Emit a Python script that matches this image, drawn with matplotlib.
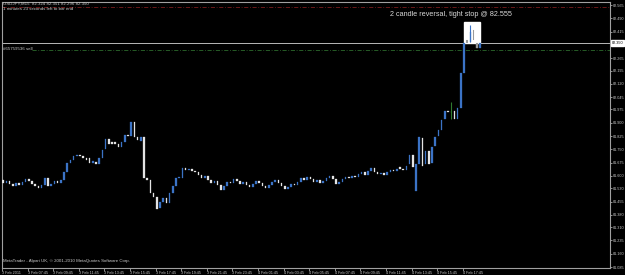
import matplotlib
matplotlib.use('Agg')
import matplotlib.pyplot as plt
from matplotlib.patches import Rectangle
from matplotlib.transforms import blended_transform_factory

plt.rcParams['font.family'] = ['Liberation Sans', 'DejaVu Sans']

# USDJPY M15 candles (open / close)
opens = [81.565, 81.577, 81.560, 81.571, 81.554, 81.543, 81.560, 81.548, 81.565, 81.582,
         81.571, 81.554, 81.543, 81.531, 81.548, 81.588, 81.543, 81.554, 81.571, 81.560,
         81.577, 81.622, 81.673, 81.690, 81.712, 81.718, 81.712, 81.701, 81.701, 81.673,
         81.678, 81.667, 81.701, 81.752, 81.808, 81.791, 81.791, 81.780, 81.763, 81.791,
         81.831, 81.825, 81.904, 81.820, 81.797, 81.820, 81.588, 81.577, 81.503, 81.481,
         81.418, 81.452, 81.475, 81.447, 81.503, 81.543, 81.588, 81.588, 81.644, 81.633,
         81.639, 81.627, 81.622, 81.605, 81.588, 81.599, 81.577, 81.560, 81.571, 81.548,
         81.520, 81.543, 81.565, 81.560, 81.582, 81.571, 81.554, 81.565, 81.548, 81.537,
         81.554, 81.571, 81.560, 81.543, 81.531, 81.548, 81.565, 81.577, 81.560, 81.543,
         81.526, 81.537, 81.554, 81.548, 81.565, 81.588, 81.577, 81.594, 81.582, 81.565,
         81.577, 81.560, 81.571, 81.588, 81.599, 81.582, 81.554, 81.565, 81.582, 81.594,
         81.588, 81.599, 81.594, 81.611, 81.622, 81.605, 81.627, 81.644, 81.622, 81.611,
         81.616, 81.605, 81.622, 81.633, 81.627, 81.650, 81.639, 81.633, 81.667, 81.718,
         81.514, 81.667, 81.814, 81.667, 81.740, 81.673, 81.769, 81.825, 81.859, 81.921,
         81.966, 81.961, 81.966, 81.921, 81.983, 82.181, 82.368, 82.356, 82.424, 82.351,
         82.322]
closes = [81.577, 81.560, 81.571, 81.554, 81.543, 81.560, 81.548, 81.565, 81.582, 81.571,
          81.554, 81.543, 81.531, 81.548, 81.588, 81.543, 81.554, 81.571, 81.560, 81.577,
          81.622, 81.673, 81.690, 81.712, 81.718, 81.712, 81.701, 81.690, 81.673, 81.684,
          81.667, 81.701, 81.746, 81.808, 81.780, 81.780, 81.780, 81.763, 81.791, 81.831,
          81.825, 81.904, 81.820, 81.803, 81.820, 81.588, 81.577, 81.503, 81.481, 81.413,
          81.452, 81.475, 81.447, 81.503, 81.543, 81.588, 81.594, 81.644, 81.633, 81.639,
          81.627, 81.622, 81.605, 81.588, 81.599, 81.577, 81.560, 81.571, 81.548, 81.520,
          81.543, 81.565, 81.560, 81.582, 81.571, 81.554, 81.565, 81.548, 81.537, 81.554,
          81.571, 81.560, 81.543, 81.531, 81.548, 81.565, 81.577, 81.560, 81.543, 81.526,
          81.537, 81.554, 81.548, 81.565, 81.588, 81.577, 81.594, 81.582, 81.565, 81.577,
          81.560, 81.571, 81.588, 81.599, 81.582, 81.554, 81.565, 81.582, 81.594, 81.588,
          81.599, 81.594, 81.611, 81.622, 81.605, 81.627, 81.644, 81.622, 81.611, 81.616,
          81.605, 81.622, 81.633, 81.627, 81.639, 81.639, 81.633, 81.656, 81.718, 81.650,
          81.667, 81.820, 81.656, 81.740, 81.667, 81.763, 81.820, 81.859, 81.916, 81.966,
          81.961, 81.961, 81.921, 81.983, 82.181, 82.351, 82.351, 82.413, 82.368, 82.322,
          82.350]

# bars whose wicks stick out visibly
wick_bars = [141, 147]
wick_highs = [82.017, 82.452]
wick_lows = [81.921, 82.356]

price_ticks = [81.085, 81.160, 81.235, 81.310, 81.380, 81.455, 81.530, 81.600, 81.675,
               81.750, 81.825, 81.900, 81.975, 82.045, 82.120, 82.195, 82.265, 82.415,
               82.490, 82.565]
price_labels = ['81.085', '81.160', '81.235', '81.310', '81.380', '81.455', '81.530',
                '81.600', '81.675', '81.750', '81.825', '81.900', '81.975', '82.045',
                '82.120', '82.195', '82.265', '82.415', '82.490', '82.565']
time_labels = ['3 Feb 2011', '3 Feb 07:45', '3 Feb 09:45', '3 Feb 11:45', '3 Feb 13:45',
               '3 Feb 15:45', '3 Feb 17:45', '3 Feb 19:45', '3 Feb 21:45', '3 Feb 23:45',
               '4 Feb 01:45', '4 Feb 03:45', '4 Feb 05:45', '4 Feb 07:45', '4 Feb 09:45',
               '4 Feb 11:45', '4 Feb 13:45', '4 Feb 15:45', '4 Feb 17:45']

stop_price = 82.555
sell_price = 82.311
bid_price = 82.350
box_bars = (145, 150)
box_prices = (82.351, 82.470)

BLUE = '#3b73c6'
WHITE = '#e4e4e4'
GREEN = '#2f7a2f'
FG = '#c8c8c8'
SMALL = 2.7

fig = plt.figure(figsize=(6.25, 2.75), dpi=100, facecolor='black')
ax = fig.add_axes([2 / 625, 7 / 275, 608 / 625, 266 / 275], facecolor='black')

x = list(range(len(opens)))
colors = []
for o, c in zip(opens, closes):
    if c > o:
        colors.append(BLUE)
    elif c < o:
        colors.append(WHITE)
    else:
        colors.append(GREEN)
heights = [c - o for o, c in zip(opens, closes)]

# highlight box drawn behind the candles
ax.add_patch(Rectangle((box_bars[0], box_prices[0]), box_bars[1] - box_bars[0],
                       box_prices[1] - box_prices[0], facecolor='white',
                       edgecolor='white', zorder=2))

ax.bar(x, heights, bottom=opens, width=0.55, color=colors, edgecolor=colors,
       linewidth=0.2, zorder=3)
ax.vlines(wick_bars, wick_lows, wick_highs, colors=[colors[i] for i in wick_bars],
          linewidth=0.8, zorder=3)
# white candles inside the white box show as grey
for i in range(box_bars[0], box_bars[1]):
    if colors[i] == WHITE:
        ax.bar(i, heights[i], bottom=opens[i], width=0.55, color='#9a9a9a', zorder=4)

ax.axhline(stop_price, color='#7a1c1c', lw=0.6, ls=(0, (5, 2, 1, 2)), zorder=1)
ax.axhline(sell_price, xmin=30 / 608, color='#2c6a2c', lw=0.6, ls=(0, (5, 2, 1, 2)), zorder=1)
ax.axhline(bid_price, color='#b8b8b8', lw=0.7, zorder=1)

ax.set_xlim(0.625, 190.625)
ax.set_ylim(81.0794, 82.582)

ax.yaxis.tick_right()
ax.set_yticks(price_ticks)
ax.set_yticklabels(price_labels)
ax.set_xticks([0.625 + 8 * k for k in range(len(time_labels))])
ax.set_xticklabels(time_labels, ha='left')
ax.tick_params(axis='y', colors=FG, labelsize=SMALL, length=1.5, width=0.5, pad=0.6)
ax.tick_params(axis='x', colors=FG, labelsize=SMALL, length=2, width=0.5, pad=0.3)
for s in ax.spines.values():
    s.set_color('#a0a0a0')
    s.set_linewidth(0.8)

tr = blended_transform_factory(ax.transAxes, ax.transData)
ax.text(1.003, bid_price, '82.350', transform=tr, fontsize=SMALL, color='black',
        va='center', ha='left',
        bbox=dict(facecolor='white', edgecolor='white', pad=0.5))

fig.text(3 / 625, 1 - 4 / 275, 'USDJPY,M15  82.324 82.351 82.296 82.350',
         fontsize=3.2, color=FG, va='center')
fig.text(3 / 625, 1 - 9 / 275, '1 minutes 23 seconds left to bar end',
         fontsize=3.2, color=FG, va='center')
fig.text(3 / 625, 1 - 49 / 275, '#65759536 sell', fontsize=3.2, color=FG, va='center')
fig.text(3 / 625, 1 - 261 / 275, 'MetaTrader - Alpari UK, \u00a9 2001-2010 MetaQuotes Software Corp.',
         fontsize=3.2, color=FG, va='center')
fig.text(390 / 625, 1 - 15 / 275, '2 candle reversal, tight stop @ 82.555',
         fontsize=5.2, color='#d8d8d8', va='center')

fig.savefig('out.png', dpi=100, facecolor='black')
